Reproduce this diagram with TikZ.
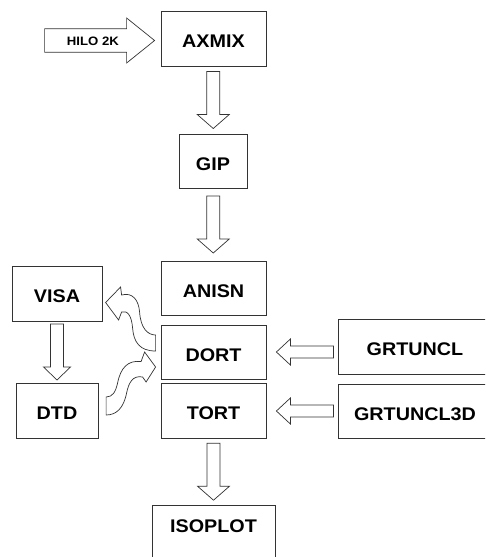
\documentclass[tikz,border=0pt]{standalone}
\usepackage{fontspec}
\newfontfamily\lblfont{Liberation Sans}[FakeStretch=1.08]
\usetikzlibrary{calc}
\tikzset{
  box/.style={draw=black!80, line width=0.8pt, fill=white, inner sep=0pt,
    font=\lblfont\bfseries\fontsize{18.3}{20}\selectfont,
    text height=18pt, text depth=0pt},
  blk/.style={draw=black!80, line width=0.7pt, fill=white, line join=miter},
  % hollow block arrows, drawn in local coordinates (y grows downwards)
  bigdown/.pic={\draw[blk] (-6.5,-28.5) -- (-6.5,14.5) -- (-16,14.5) -- (0,28.5)
      -- (16,14.5) -- (6.5,14.5) -- (6.5,-28.5) -- cycle;},
  smalldown/.pic={\draw[blk] (-6.5,-28) -- (-6.5,15) -- (-13.5,15) -- (0,28)
      -- (13.5,15) -- (6.5,15) -- (6.5,-28) -- cycle;},
  leftblk/.pic={\draw[blk] (28.5,-6) -- (-14.5,-6) -- (-14.5,-13) -- (-28.5,0)
      -- (-14.5,13) -- (-14.5,6) -- (28.5,6) -- cycle;}
}
\begin{document}
\begin{tikzpicture}[x=1pt,y=-1pt]
\useasboundingbox (0,0) rectangle (485,557);
\clip (0,0) rectangle (485,557);

% main chain
\node[box, minimum width=105pt, minimum height=55pt] (AXMIX) at (213.5,38.5) {AXMIX};
\node[box, minimum width=68pt,  minimum height=54pt] (GIP)   at (213,161)    {GIP};
\node[box, minimum width=105pt, minimum height=54pt] (ANISN) at (213.5,288)  {ANISN};
\node[box, minimum width=105pt, minimum height=54pt] (DORT)  at (213.5,352)  {DORT};
\node[box, minimum width=105pt, minimum height=55pt] (TORT)  at (213.5,410.5) {TORT};
\node[box, anchor=north, minimum width=123pt, minimum height=0pt, inner ysep=14pt,
      text height=13.1pt, text depth=40pt] (ISOPLOT) at (213.5,505) {ISOPLOT};

% side codes
\node[box, minimum width=90pt, minimum height=55pt] (VISA) at (57,293.5)  {VISA};
\node[box, minimum width=82pt, minimum height=55pt] (DTD)  at (57,410.5)  {DTD};
\node[box, minimum width=154pt, minimum height=55pt] (GRTUNCL)   at (415,346.5) {GRTUNCL};
\node[box, minimum width=154pt, minimum height=54pt] (GRTUNCL3D) at (415,411)   {GRTUNCL3D};

% input arrow into AXMIX
\begin{scope}[shift={(AXMIX.west)}]
  \draw[blk] (-116,-9.7) -- (-34,-9.7) -- (-34,-20.5) -- (-6,2) -- (-34,24.5)
    -- (-34,13.7) -- (-116,13.7) -- cycle;
\end{scope}
\node[inner sep=0pt, font=\lblfont\bfseries\fontsize{12.2}{14}\selectfont]
  (HILO) at ($(AXMIX.west)+(-67.7,2.5)$) {HILO 2K};

% straight block arrows
\pic at ($(AXMIX.south)!0.5!(GIP.north)$) {bigdown};
\pic at ($(GIP.south)!0.5!(ANISN.north)$) {bigdown};
\pic at ($(TORT.south)!0.5!(ISOPLOT.north)$) {bigdown};
\pic at ($(VISA.south)!0.5!(DTD.north)$) {smalldown};
\pic at ($(DORT.east)+(38.5,0)$) {leftblk};
\pic at ($(TORT.east)+(38.5,0.5)$) {leftblk};

% curved block arrows DORT -> VISA and DTD -> DORT
\begin{scope}[shift={(DORT.west)}]
  \draw[blk] (-55,-49.5) -- (-40,-65) -- (-39,-57)
    .. controls (-28,-60) and (-22,-52) .. (-21,-40)
    .. controls (-20,-24) and (-13,-17) .. (-5,-17)
    -- (-5,-1)
    .. controls (-21,-1) and (-27,-10) .. (-28,-24)
    .. controls (-29,-36) and (-33,-42) .. (-39,-40)
    -- (-42,-32) -- cycle;
  \draw[blk] (-5,15) -- (-14.5,30) -- (-18,25)
    .. controls (-28,23) and (-32,31) .. (-34,41)
    .. controls (-37,56) and (-44,63) .. (-54.5,63)
    -- (-54.5,45)
    .. controls (-48,45) and (-45,40) .. (-43,31)
    .. controls (-40,16) and (-33,8) .. (-19.5,9.5)
    -- (-16,0) -- cycle;
\end{scope}
\end{tikzpicture}
\end{document}
